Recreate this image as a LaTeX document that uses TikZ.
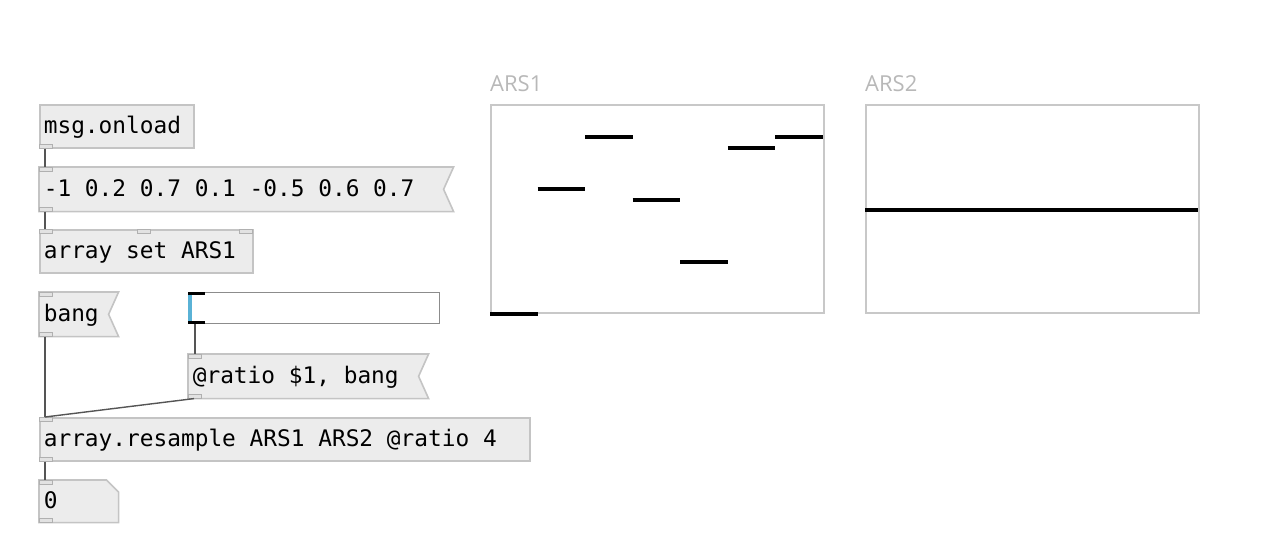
\documentclass[tikz,border=0pt]{standalone}
\usepackage{fontspec}
\usetikzlibrary{positioning, backgrounds}
\newfontfamily\pdmono{DejaVu Sans Mono}
\newfontfamily\pdsans{Open Sans}
\definecolor{objfill}{RGB}{236,236,236}
\definecolor{objedge}{RGB}{196,196,196}
\definecolor{cordgray}{RGB}{85,85,85}
\definecolor{ioletfill}{RGB}{226,226,226}
\definecolor{ioletedge}{RGB}{176,176,176}
\definecolor{arrayedge}{RGB}{200,200,200}
\definecolor{labelgray}{RGB}{184,184,184}
\definecolor{knobblue}{RGB}{90,178,214}
\definecolor{slideredge}{RGB}{140,140,140}

\tikzset{
  obj/.style={anchor=north west, draw=objedge, fill=objfill, line width=1.6pt, minimum height=43pt, inner xsep=4pt, inner ysep=0pt, text height=19pt, text depth=4pt, align=flush left, font=\pdmono\fontsize{22.8pt}{24pt}\selectfont},
  msgobj/.style={obj, draw=none, fill=none},
  iolet/.style={draw=ioletedge, fill=ioletfill, line width=0.8pt},
  cord/.style={draw=cordgray, line width=1.4pt},
  arraybox/.style={anchor=north west, draw=arrayedge, fill=white, line width=1.8pt, minimum width=333pt, minimum height=208pt, inner sep=0pt},
  arraylabel/.style={anchor=south west, inner sep=0pt, text=labelgray, font=\pdsans\fontsize{22pt}{24pt}\selectfont},
  wave/.style={line width=4pt, black}
}
% message box outline (flag) and number box outline
\newcommand{\msgshape}[1]{\begin{pgfonlayer}{background}\filldraw[draw=objedge, fill=objfill, line width=1.6pt] (#1.north west) -- (#1.north east) -- ([xshift=-10pt]#1.east) -- (#1.south east) -- (#1.south west) -- cycle;\end{pgfonlayer}}
\newcommand{\atomshape}[1]{\begin{pgfonlayer}{background}\filldraw[draw=objedge, fill=objfill, line width=1.6pt] (#1.north west) -- ([xshift=-12pt]#1.north east) -- ([yshift=-12pt]#1.north east) -- (#1.south east) -- (#1.south west) -- cycle;\end{pgfonlayer}}
\newcommand{\inlet}[2][0pt]{\filldraw[iolet] ([xshift=#1]#2.north west) rectangle ++(13pt,-4pt);}
\newcommand{\outlet}[2][0pt]{\filldraw[iolet] ([xshift=#1]#2.south west) rectangle ++(13pt,4pt);}

\begin{document}
\begin{tikzpicture}[x=1pt, y=-1pt]
\useasboundingbox (0,0) rectangle (1282,557);

% objects on the left
\node[obj, minimum width=154pt, text width=146pt] (onload) at (39,104) {msg.onload};
\node[msgobj, minimum width=413pt, text width=405pt] (values) at (39,167) {-1 0.2 0.7 0.1 -0.5 0.6 0.7};
\node[obj, minimum width=213pt, text width=205pt] (arrayset) at (39,229) {array set ARS1};
\node[msgobj, minimum width=78pt, text width=70pt] (bang) at (39,292) {bang};
\node[anchor=north west, draw=slideredge, fill=white, line width=1.2pt, minimum width=251pt, minimum height=31pt, inner sep=0pt] (slider) at (188,292) {};
\node[msgobj, minimum width=239pt, text width=231pt] (ratio) at (188,354) {@ratio \$1, bang};
\node[obj, minimum width=490pt, text width=482pt] (resample) at (39,417) {array.resample ARS1 ARS2 @ratio 4};
\node[msgobj, minimum width=78pt, minimum height=41pt, text width=70pt] (number) at (39,480) {0};

\msgshape{values}
\msgshape{bang}
\msgshape{ratio}
\atomshape{number}

% slider knob
\fill[knobblue] (slider.north west) rectangle ([xshift=4pt]slider.south west);
\fill[black] (slider.north west) rectangle ([xshift=17pt,yshift=-3pt]slider.north west);
\fill[black] (slider.south west) rectangle ([xshift=17pt,yshift=3pt]slider.south west);

% inlets and outlets
\outlet{onload}
\inlet{values} \outlet{values}
\inlet{arrayset} \inlet[98pt]{arrayset} \inlet[200pt]{arrayset}
\inlet{bang} \outlet{bang}
\inlet{ratio} \outlet{ratio}
\inlet{resample} \outlet{resample}
\inlet{number} \outlet{number}

% connections
\draw[cord] ([xshift=6pt]onload.south west) -- ([xshift=6pt]values.north west);
\draw[cord] ([xshift=6pt]values.south west) -- ([xshift=6pt]arrayset.north west);
\draw[cord] ([xshift=6pt]bang.south west) -- ([xshift=6pt]resample.north west);
\draw[cord] ([xshift=7pt]slider.south west) -- ([xshift=7pt]ratio.north west);
\draw[cord] ([xshift=6pt]ratio.south west) -- ([xshift=6pt]resample.north west);
\draw[cord] ([xshift=6pt]resample.south west) -- ([xshift=6pt]number.north west);

% arrays
\node[arraybox] (ars1) at (490,104) {};
\node[arraylabel] (ars1label) at ([yshift=12pt]ars1.north west) {ARS1};
\node[arraybox] (ars2) at (865,104) {};
\node[arraylabel] (ars2label) at ([yshift=12pt]ars2.north west) {ARS2};

% ARS1 values
\draw[wave] (490,314) -- (537.6,314);
\draw[wave] (537.6,189.2) -- (585.1,189.2);
\draw[wave] (585.1,137.2) -- (632.7,137.2);
\draw[wave] (632.7,199.6) -- (680.3,199.6);
\draw[wave] (680.3,262) -- (727.9,262);
\draw[wave] (727.9,147.6) -- (775.4,147.6);
\draw[wave] (775.4,137.2) -- (823,137.2);

% ARS2 values
\draw[wave] (865,210) -- (1198,210);
\end{tikzpicture}
\end{document}
